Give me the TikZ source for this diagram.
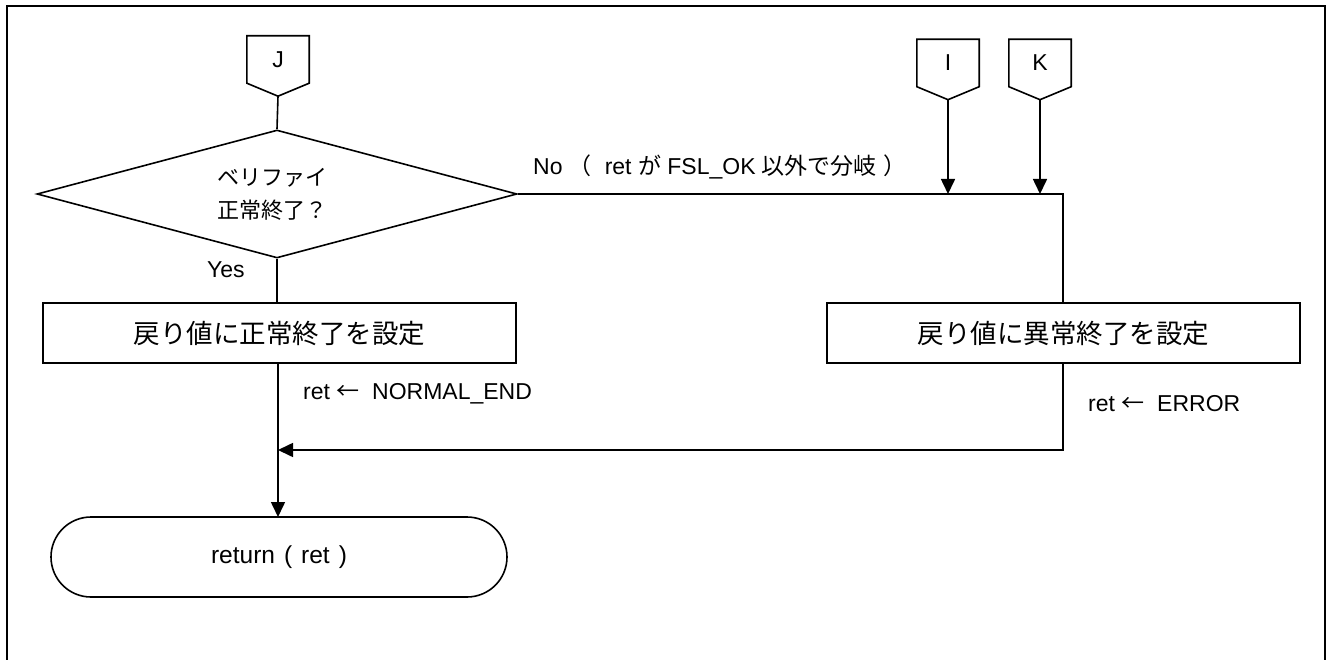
\documentclass[tikz,border=0pt]{standalone}
\usepackage{fontspec}
\setmainfont{Liberation Sans}
\newfontfamily\jp{Noto Sans CJK JP}
\usetikzlibrary{arrows.meta,shapes.geometric,shapes.misc,calc}
\begin{document}
\begin{tikzpicture}[x=1pt,y=-1pt,
  every node/.style={font=\fontsize{23}{27}\selectfont},
  ln/.style={line width=1.6pt},
  arr/.style={ln,-{Triangle[length=15pt,width=14pt]}},
  conn/.style={minimum width=62pt,minimum height=47pt,inner sep=0pt},
  procbox/.style={draw,ln,minimum width=473pt,minimum height=60pt,inner sep=0pt,font=\jp\fontsize{26.5}{30}\selectfont},
  decis/.style={draw,ln,diamond,aspect=3.75,minimum width=480pt,minimum height=128pt,inner sep=0pt,align=left,font=\jp\fontsize{22}{33}\selectfont},
  term/.style={draw,ln,rounded rectangle,rounded rectangle arc length=180,minimum width=456pt,minimum height=80pt,inner sep=0pt,font=\fontsize{24.5}{28}\selectfont},
  lbl/.style={inner sep=0pt,anchor=west}]
\useasboundingbox (0,0) rectangle (1327,660);
\draw[line width=2.2pt] (7,660) -- (7,6) -- (1325,6) -- (1325,660);

% off-page connectors
\node[conn] (J) at (278,59.5) {J};
\node[conn] (I) at (948,63) {I};
\node[conn] (K) at (1040,63) {K};
\coordinate (Jp) at ($(J.south)+(0,13)$);
\coordinate (Ip) at ($(I.south)+(0,13)$);
\coordinate (Kp) at ($(K.south)+(0,13)$);
\draw[ln] (J.south west) -- (J.north west) -- (J.north east) -- (J.south east) -- (Jp) -- cycle;
\draw[ln] (I.south west) -- (I.north west) -- (I.north east) -- (I.south east) -- (Ip) -- cycle;
\draw[ln] (K.south west) -- (K.north west) -- (K.north east) -- (K.south east) -- (Kp) -- cycle;

\node[decis] (D) at (277,194) {\hspace*{-10pt}ベリファイ\\\hspace*{-10pt}正常終了？};
\node[procbox] (B1) at (279.5,333) {戻り値に正常終了を設定};
\node[procbox] (B2) at (1063.5,333) {戻り値に異常終了を設定};
\node[term] (T) at (279,557) {return\hspace{9pt}(\hspace{9pt}ret\hspace{9pt})};

\coordinate (R) at (1063,194);
\coordinate (M) at (1063,450);
\coordinate (Ia) at (Ip |- R);
\coordinate (Ka) at (Kp |- R);
\coordinate (Ma) at (278,450);
\coordinate (B1b) at (278,363);
\coordinate (Tt) at (278,517);

\draw[ln] (Jp) -- (D.north);
\draw[ln] (D.south) -- (B1.north -| D.south);
\draw[arr] (B1b) -- (Tt);
\draw[ln] (D.east) -- (R) -- (B2.north -| R);
\draw[arr] (Ip) -- (Ia);
\draw[arr] (Kp) -- (Ka);
\draw[arr] (B2.south -| M) -- (M) -- (Ma);

\node[lbl] (Ny) at (207,270) {Yes};
\node[lbl] (Nn) at (533,167) {No {\jp （}\ \ ret {\jp が} FSL\_OK {\jp 以外で分岐}\ {\jp ）}};
\node[lbl] (Lr1) at (303,394) {ret {\jp ←}\ \ NORMAL\_END};
\node[lbl] (Lr2) at (1088,404) {ret {\jp ←}\ \ ERROR};
\end{tikzpicture}
\end{document}
